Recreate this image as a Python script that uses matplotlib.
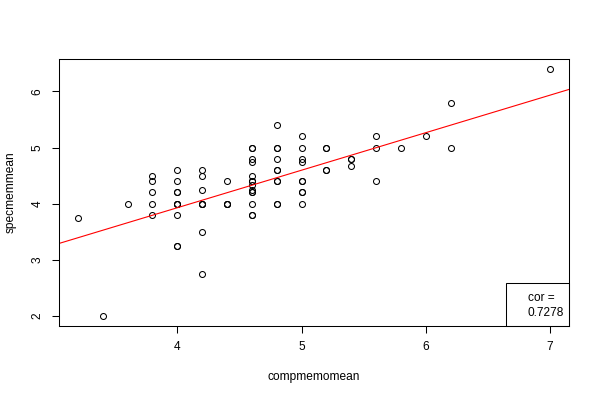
import numpy as np
import matplotlib
matplotlib.use('Agg')
import matplotlib.pyplot as plt
from matplotlib.patches import Rectangle

plt.rcParams['font.family'] = ['Liberation Sans', 'DejaVu Sans']

# compmemomean values (x), grouped by column
compmemomean = ([3.2] + [3.4] + [3.6] + [3.8] * 5 + [4.0] * 10 + [4.2] * 8 + [4.4] * 4
                + [4.6] * 14 + [4.8] * 10 + [5.0] * 9 + [5.2] * 4 + [5.4] * 3
                + [5.6] * 3 + [5.8] + [6.0] + [6.2] * 2 + [7.0])
# specmemmean values (y), same order
specmemmean = ([3.75]
               + [2.0]
               + [4.0]
               + [4.5, 4.4, 4.2, 4.0, 3.8]
               + [4.6, 4.4, 4.2, 4.2, 4.0, 4.0, 4.0, 3.8, 3.25, 3.25]
               + [4.6, 4.5, 4.25, 4.0, 4.0, 4.0, 3.5, 2.75]
               + [4.4, 4.0, 4.0, 4.0]
               + [5.0, 5.0, 4.8, 4.75, 4.5, 4.4, 4.4, 4.333, 4.25, 4.2, 4.2, 4.0, 3.8, 3.8]
               + [5.4, 5.0, 5.0, 4.8, 4.6, 4.6, 4.4, 4.4, 4.0, 4.0]
               + [5.2, 5.0, 4.8, 4.75, 4.4, 4.4, 4.2, 4.2, 4.0]
               + [5.0, 5.0, 4.6, 4.6]
               + [4.8, 4.8, 4.667]
               + [5.2, 5.0, 4.4]
               + [5.0]
               + [5.2]
               + [5.8, 5.0]
               + [6.4])

# regression line
fit_intercept = 1.257
fit_slope = 0.668
cor_text = 'cor =\n0.7278'

x_ticks = [4, 5, 6, 7]
y_ticks = [2, 3, 4, 5, 6]

fig = plt.figure(figsize=(5.99, 4.0), dpi=100)
ax = fig.add_axes([59 / 599, 74 / 400, 510 / 599, 267 / 400])

ax.plot(compmemomean, specmemmean, 'o', mfc='none', mec='black', ms=4.3, mew=0.75)

xmin, xmax = min(compmemomean), max(compmemomean)
ymin, ymax = min(specmemmean), max(specmemmean)
ax.set_xlim(xmin - 0.04 * (xmax - xmin), xmax + 0.04 * (xmax - xmin))
ax.set_ylim(ymin - 0.04 * (ymax - ymin), ymax + 0.04 * (ymax - ymin))

ax.axline((0, fit_intercept), slope=fit_slope, color='red', lw=0.8)

ax.set_xticks(x_ticks)
ax.set_yticks(y_ticks)
ax.tick_params(direction='out', length=5, width=0.75, labelsize=8.6, pad=6)
plt.setp(ax.get_yticklabels(), rotation=90, va='center')
for s in ax.spines.values():
    s.set_linewidth(0.75)

ax.set_xlabel('compmemomean', fontsize=8.6, va='center')
ax.set_ylabel('specmemmean', fontsize=8.6, va='center')
ax.xaxis.set_label_coords(0.5, -51 / 267)
ax.yaxis.set_label_coords(-48 / 510, 0.5)

# legend-like box at bottom right
ax.add_patch(Rectangle((447 / 510, 0), 63 / 510, 43 / 267, transform=ax.transAxes,
                       fill=False, edgecolor='black', lw=0.75, clip_on=False))
ax.text(468.5 / 510, 34 / 267, cor_text, transform=ax.transAxes, fontsize=8.6,
        ha='left', va='top', linespacing=1.3)

fig.savefig('out.png', dpi=100)
